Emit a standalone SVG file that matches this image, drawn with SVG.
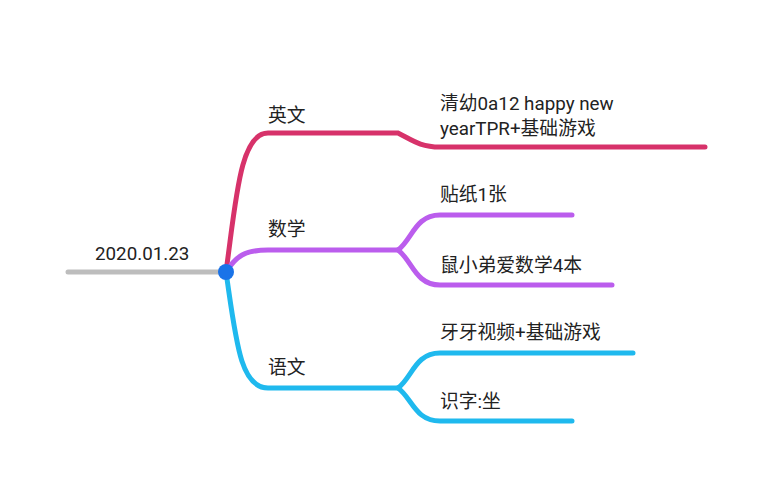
<svg xmlns="http://www.w3.org/2000/svg" width="771" height="491" viewBox="0 0 771 491">
<style>
text{font-family:Roboto,"Noto Sans CJK SC",sans-serif;font-size:18.8px;fill:#222}
.c{fill:none;stroke-width:5;stroke-linecap:round}
.en{stroke:#d7326a}.ma{stroke:#bb5ded}.zh{stroke:#1fb9ee}
</style>
<rect width="771" height="491" fill="#fff"/>
<g id="connectors">
<path class="c" d="M68 272H226" stroke="#bdbdbd"/>
<path class="c en" d="M226 272C236 200 240 133 268 133H398C412 140 420 147 440 147H705"/>
<path class="c ma" d="M226 272C236 256 245 250 268 250H398C412 240 415 215 440 215H572"/>
<path class="c ma" d="M398 250C412 260 415 285 440 285H612"/>
<path class="c zh" d="M226 272C236 340 240 388 268 388H398C412 378 415 353 440 353H633"/>
<path class="c zh" d="M398 388C412 398 415 421 440 421H572"/>
</g>
<g id="root"><text x="95" y="260">2020.01.23</text><circle cx="226" cy="272" r="8" fill="#1a73e8"/></g>
<g id="en"><text x="268" y="122">英文</text></g>
<g id="en1"><text x="440" y="110">清幼0a12 happy new</text><text x="440" y="135">yearTPR+基础游戏</text></g>
<g id="math"><text x="268" y="236">数学</text></g>
<g id="m1"><text x="440" y="201">贴纸1张</text></g>
<g id="m2"><text x="440" y="272">鼠小弟爱数学4本</text></g>
<g id="zh"><text x="268" y="374">语文</text></g>
<g id="z1"><text x="440" y="339">牙牙视频+基础游戏</text></g>
<g id="z2"><text x="440" y="408">识字:坐</text></g>
</svg>
